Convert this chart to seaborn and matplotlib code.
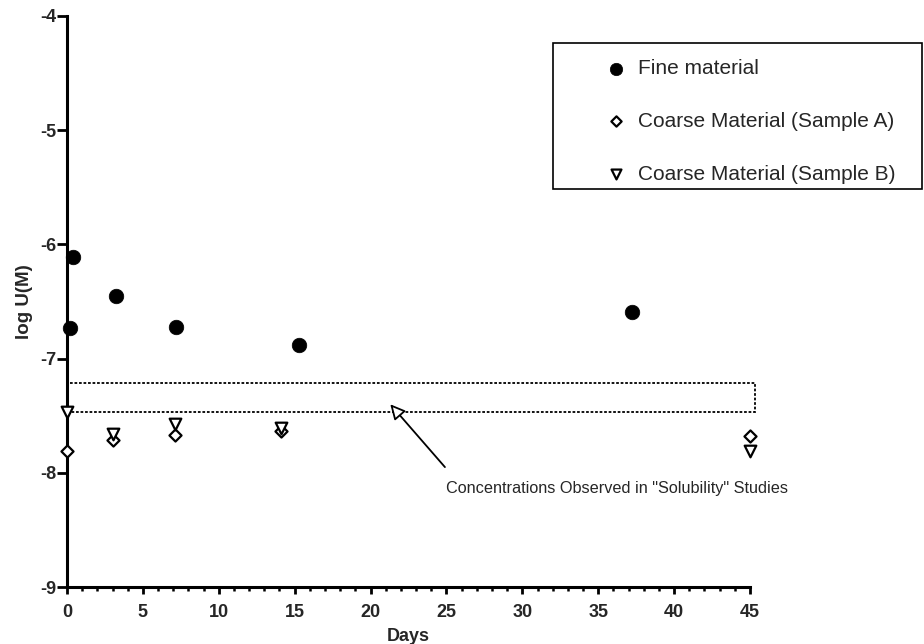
import matplotlib
matplotlib.use("Agg")
import matplotlib.pyplot as plt
import seaborn as sns
import pandas as pd
from matplotlib.patches import Rectangle
from matplotlib.ticker import MultipleLocator

# ---- data ----
fine_days = [0.2, 0.4, 3.2, 7.2, 15.3, 37.2]
fine_logU = [-6.73, -6.11, -6.45, -6.72, -6.88, -6.59]

coarseA_days = [0.0, 3.0, 7.1, 14.1, 45.0]
coarseA_logU = [-7.81, -7.71, -7.67, -7.63, -7.68]

coarseB_days = [0.0, 3.0, 7.1, 14.1, 45.0]
coarseB_logU = [-7.47, -7.66, -7.57, -7.61, -7.81]

labels = ["Fine material", "Coarse Material (Sample A)", "Coarse Material (Sample B)"]
x_ticks = [0, 5, 10, 15, 20, 25, 30, 35, 40, 45]
y_ticks = [-9, -8, -7, -6, -5, -4]

band_low, band_high = -7.47, -7.21
band_x_end = 45.3
arrow_head = (21.3, -7.40)
arrow_tail = (24.9, -7.95)
note_pos = (25.0, -8.14)
note_text = 'Concentrations Observed in "Solubility" Studies'

df = pd.concat([
    pd.DataFrame({"Days": fine_days, "logU": fine_logU, "series": labels[0]}),
    pd.DataFrame({"Days": coarseA_days, "logU": coarseA_logU, "series": labels[1]}),
    pd.DataFrame({"Days": coarseB_days, "logU": coarseB_logU, "series": labels[2]}),
])

sns.set_style("white")
plt.rcParams["font.family"] = ["Liberation Sans", "DejaVu Sans"]
plt.rcParams["axes.unicode_minus"] = False

W, H = 924, 644
fig = plt.figure(figsize=(W / 100, H / 100), dpi=100)
ax = fig.add_axes([67 / W, 1 - 587 / H, (750 - 67) / W, (587 - 16) / H])

styles = {
    labels[0]: dict(marker="o", s=110, color="black", edgecolor="black", linewidth=0.5),
    labels[1]: dict(marker="D", s=38, facecolor="white", edgecolor="black", linewidth=1.6),
    labels[2]: dict(marker="v", s=70, facecolor="white", edgecolor="black", linewidth=1.6),
}
for lab in labels:
    sns.scatterplot(data=df[df["series"] == lab], x="Days", y="logU", ax=ax,
                    label=lab, clip_on=False, zorder=5, **styles[lab])

ax.set_xlim(0, 45)
ax.set_ylim(-9, -4)
ax.set_xticks(x_ticks)
ax.set_yticks(y_ticks)
ax.xaxis.set_minor_locator(MultipleLocator(1))
ax.tick_params(axis="x", which="major", direction="out", length=5, width=2,
               labelsize=13, pad=7, bottom=True, color="black")
ax.tick_params(axis="y", which="major", direction="out", length=7, width=2,
               labelsize=13, pad=1, left=True, color="black")
ax.tick_params(axis="x", which="minor", direction="out", length=3, width=1.8,
               bottom=True, color="black")
for t in ax.get_xticklabels() + ax.get_yticklabels():
    t.set_fontweight("bold")

for side in ["top", "right"]:
    ax.spines[side].set_visible(False)
for side in ["left", "bottom"]:
    ax.spines[side].set_linewidth(2.2)
    ax.spines[side].set_color("black")

ax.set_xlabel("Days", fontsize=13, fontweight="bold", labelpad=5)
ax.set_ylabel("log U(M)", fontsize=13.5, fontweight="bold", labelpad=5)

# dotted band
ax.add_patch(Rectangle((0, band_low), band_x_end, band_high - band_low,
                       fill=False, linestyle=(0, (1.5, 1)), linewidth=1.3,
                       edgecolor="black", clip_on=False, zorder=3))
ax.annotate("", xy=arrow_head, xytext=arrow_tail,
            arrowprops=dict(arrowstyle="-|>,head_length=0.9,head_width=0.45",
                            fc="white", ec="black", lw=1.3, shrinkA=0, shrinkB=0))
ax.text(note_pos[0], note_pos[1], note_text, fontsize=11.7, va="center", ha="left")

# legend (frame drawn separately so it can run to the figure edge)
leg = ax.legend(loc="upper left", bbox_to_anchor=(606 / W, 1 - 59 / H),
                bbox_transform=fig.transFigure, fontsize=15, frameon=False,
                labelspacing=1.62, borderpad=0, handletextpad=0.55,
                borderaxespad=0, markerscale=0.85, handlelength=1.0)
fig.add_artist(Rectangle((553 / W, 1 - 189 / H), (922 - 553) / W, (189 - 43) / H,
                         transform=fig.transFigure, fill=False,
                         edgecolor="black", linewidth=1.2))

fig.savefig("out.png", dpi=100, facecolor="white")
